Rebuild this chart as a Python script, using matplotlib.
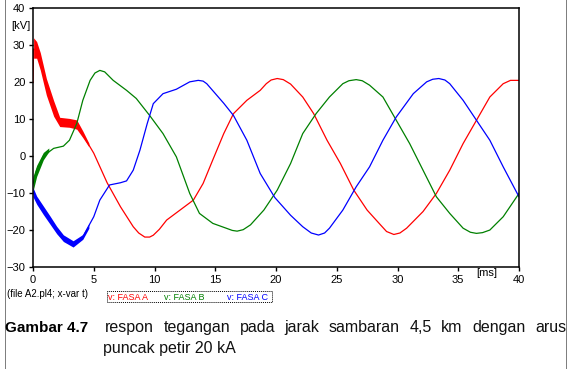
import numpy as np
import matplotlib
matplotlib.use('Agg')
import matplotlib.pyplot as plt
from matplotlib.lines import Line2D
from matplotlib.patches import Rectangle

plt.rc('font', family='Liberation Sans', size=8)

### Data
t_a = [0, 0.05, 0.3, 0.6, 1.1, 1.7, 2.2, 3.0, 3.6, 4.1, 5.0, 6.1, 7.2, 8.25, 8.7, 9.2, 9.6, 9.9, 10.4,
       11.0, 12.1, 13.2, 14.0, 14.8, 15.7, 16.5, 17.6, 18.7, 19.2, 19.6, 20.1, 20.6, 21.2, 22.2, 23.1,
       24.2, 25.3, 26.4, 27.5, 28.6, 29.1, 29.7, 30.2, 30.75, 32.1, 33.2, 34.3, 35.4, 36.5, 37.6, 38.7,
       39.3, 40]
v_a = [20, 29, 28.5, 25.5, 18.7, 12.8, 9.2, 9.0, 8.5, 5.8, 0.8, -7.2, -13.7, -19.1, -20.8, -21.9, -21.9,
       -21.4, -19.8, -17.3, -14.6, -11.9, -7.4, -1, 6.1, 11.5, 15.1, 17.8, 19.6, 20.6, 21.0, 20.7, 19.5,
       16, 11.5, 4.3, -2, -9.2, -14.6, -18.6, -20.4, -21.2, -20.8, -19.5, -15, -10.1, -3.8, 3.4, 9.7,
       16, 19.6, 20.5, 20.5]

t_b = [0, 0.3, 0.85, 1.7, 2.5, 3.0, 3.6, 4.1, 4.7, 5.1, 5.5, 5.9, 6.6, 7.7, 8.5, 9.6, 10.7, 11.8, 12.1,
       12.9, 13.7, 14.8, 15.9, 16.4, 16.8, 17.3, 17.9, 19.0, 20.1, 21.2, 22.2, 23.3, 24.4, 25.5, 26.0,
       26.6, 27.1, 27.7, 28.8, 29.9, 31.0, 32.1, 33.2, 34.3, 35.4, 36.0, 36.5, 37.0, 37.6, 38.7, 40]
v_b = [-7.5, -3.8, 0, 2.1, 2.7, 4.3, 8.8, 15.1, 20.5, 22.5, 23.2, 22.8, 20.5, 17.8, 15.6, 11, 6.1, -0.2,
       -2.9, -10.1, -15.5, -18.2, -19.5, -20.1, -20.3, -19.9, -18.6, -14.6, -9.2, -2, 6.1, 11.5, 16,
       19.6, 20.4, 20.7, 20.4, 19.2, 16, 9.7, 3.4, -3.8, -11, -15.5, -19.5, -20.6, -20.9, -20.7, -20,
       -16.4, -10.1]

t_c = [0, 0.3, 0.85, 1.4, 1.95, 2.5, 2.9, 3.3, 3.7, 4.1, 5.0, 5.5, 6.3, 7.2, 7.7, 8.25, 8.8, 9.4, 9.9,
       10.7, 11.8, 12.9, 13.6, 14.0, 14.3, 15.7, 16.5, 17.6, 18.7, 19.9, 21.2, 22.2, 22.9, 23.5, 24.0,
       24.4, 25.5, 26.6, 27.7, 28.8, 29.9, 31.3, 32.4, 32.9, 33.4, 33.9, 34.3, 35.4, 36.5, 37.6, 38.7, 40]
v_c = [-9.6, -11.9, -14.6, -17.3, -20, -22.2, -23.3, -23.8, -23.3, -21.8, -16.4, -11.9, -7.8, -7.2, -6.7,
       -3.8, 1.6, 8.8, 14.2, 16.9, 18.1, 20.1, 20.5, 20.3, 19.6, 14.3, 11.0, 4.3, -4.7, -11.2, -16,
       -19.1, -20.8, -21.35, -20.8, -19.5, -14.6, -8.3, -2.9, 4.3, 10.6, 16.9, 20.1, 20.8, 21, 20.6,
       19.6, 15.1, 9.7, 4.3, -2.9, -11]

# bande di oscillazione ad alta frequenza all'inizio
band_t_a = [0.05, 0.3, 0.6, 1.1, 1.7, 2.2, 3.0, 3.6, 4.1, 4.6]
band_lo_a = [26.5, 26.5, 23.3, 16.5, 10.8, 8.0, 7.8, 7.3, 5.0, 2.5]
band_hi_a = [32, 31, 28, 21, 15, 10.5, 10.2, 9.8, 6.8, 3.5]

band_t_c = [0, 0.3, 0.85, 1.4, 1.95, 2.5, 3.3, 4.1, 4.6]
band_lo_c = [-11, -13, -15.8, -18.4, -21, -23.1, -24.6, -22.5, -19.5]
band_hi_c = [-8.5, -10.8, -13.5, -16.2, -19, -21.3, -22.9, -21.2, -18.3]

band_t_b = [0, 0.3, 0.85, 1.3]
band_lo_b = [-9.5, -5.5, -1, 1.2]
band_hi_b = [-5.5, -2.5, 1, 2.2]

x_ticks = [0, 5, 10, 15, 20, 25, 30, 35, 40]
y_ticks = [-30, -20, -10, 0, 10, 20, 30, 40]

legend_labels = ['v: FASA A', 'v: FASA B', 'v: FASA C']
colori = ['#ff0000', '#008000', '#0000ff']

caption_bold = 'Gambar 4.7'
caption_line1 = 'respon tegangan pada jarak sambaran 4,5 km dengan arus'
caption_line2 = 'puncak petir 20 kA'

W, H = 571, 369
fig = plt.figure(figsize=(W / 100, H / 100), dpi=100)

def fx(px):
    return px / W

def fy(py):
    return 1 - py / H

ax = fig.add_axes([fx(33), fy(267), fx(519) - fx(33), fy(8.3) - fy(267)])

ax.fill_between(band_t_a, band_lo_a, band_hi_a, color=colori[0], lw=0)
ax.fill_between(band_t_b, band_lo_b, band_hi_b, color=colori[1], lw=0)
ax.fill_between(band_t_c, band_lo_c, band_hi_c, color=colori[2], lw=0)

ax.plot(t_a, v_a, color=colori[0], lw=0.9)
ax.plot(t_b, v_b, color=colori[1], lw=0.9)
ax.plot(t_c, v_c, color=colori[2], lw=0.9)

ax.set_xlim(0, 40)
ax.set_ylim(-30, 40)
ax.set_xticks(x_ticks)
ax.set_yticks(y_ticks)
ax.tick_params(direction='out', length=3, width=1, pad=2.5, labelsize=8)
for sp in ax.spines.values():
    sp.set_linewidth(1.1)

fig.text(fx(11), fy(26), '[kV]', fontsize=8, ha='left', va='center')
fig.text(fx(487), fy(273), '[ms]', fontsize=8, ha='center', va='center')
fig.text(fx(7), fy(294), '(file A2.pl4; x-var t)', fontsize=7, ha='left', va='center')

### Legenda tratteggiata
fig.add_artist(Rectangle((fx(107), fy(302)), fx(272) - fx(107), fy(291) - fy(302),
                         transform=fig.transFigure, fill=False, lw=0.7, ls=(0, (1, 1)), edgecolor='black'))
for lab, col, xp in zip(legend_labels, colori, [108, 164, 227]):
    fig.text(fx(xp), fy(297), lab, color=col, fontsize=6.5, ha='left', va='center')

### Linee punteggiate laterali
for xp in [4.5, 565.5]:
    fig.add_artist(Line2D([fx(xp), fx(xp)], [0, 1], transform=fig.transFigure,
                          color='black', lw=0.72, ls=(0, (1, 1))))

### Didascalia giustificata
fs_cap = 11.5
fig.text(fx(5), fy(332), caption_bold, fontsize=11, fontweight='bold', ha='left', va='baseline')
fig.text(fx(103), fy(353), caption_line2, fontsize=fs_cap, ha='left', va='baseline', color='#111111')

words = caption_line1.split()
txts = [fig.text(0, fy(332), w, fontsize=fs_cap, ha='left', va='baseline', color='#111111') for w in words]
fig.canvas.draw()
renderer = fig.canvas.get_renderer()
widths = [t.get_window_extent(renderer).width for t in txts]
x0, x1 = 105, 566
gap = (x1 - x0 - sum(widths)) / (len(words) - 1)
xc = x0
for t, w in zip(txts, widths):
    t.set_x(fx(xc))
    xc += w + gap

fig.savefig('out.png', dpi=100)
